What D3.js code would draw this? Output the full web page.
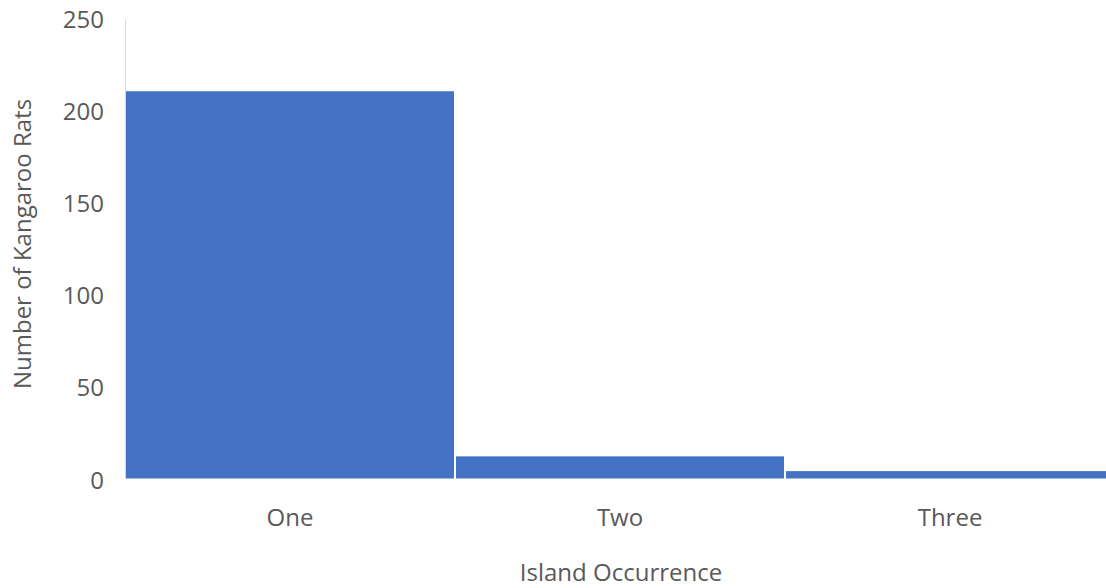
<!DOCTYPE html>
<html><head><meta charset="utf-8">
<script src="https://cdn.jsdelivr.net/npm/d3@7"></script>
<style>body{margin:0;background:#fff}svg{display:block}text{font-family:"Open Sans",sans-serif;fill:#595959}</style>
</head><body><svg id="c" width="1106" height="588"></svg>
<script>
const categories = ["One", "Two", "Three"];
const counts = [210, 12, 4];
const yTicks = [0, 50, 100, 150, 200, 250];
const xTitle = "Island Occurrence";
const yTitle = "Number of Kangaroo Rats";

const svg = d3.select("#c");
const x = d3.scaleBand().domain(categories).range([125, 1115]).padding(0);
const y = d3.scaleLinear().domain([0, 250]).range([478.5, 17.5]);

// y axis line
svg.append("line").attr("x1", 125.5).attr("x2", 125.5).attr("y1", y(250) + 2).attr("y2", y(0))
  .attr("stroke", "#d9d9d9").attr("stroke-width", 1);

// bars
svg.selectAll("rect.bar").data(categories).join("rect")
  .attr("class", "bar")
  .attr("x", d => x(d) + 1)
  .attr("width", x.bandwidth() - 2)
  .attr("y", (d, i) => y(counts[i]))
  .attr("height", (d, i) => y(0) - y(counts[i]))
  .attr("fill", "#4472C4");

// y tick labels
const yAxis = d3.axisLeft(y).tickValues(yTicks).tickSize(0).tickPadding(0);
const gy = svg.append("g").attr("transform", "translate(104,0)").call(yAxis);
gy.select(".domain").remove();
gy.selectAll("text").attr("font-size", 24).style("font-family", "'Open Sans',sans-serif").attr("fill", "#595959").attr("dy", "0.4em");

// x tick labels
const xAxis = d3.axisBottom(x).tickSize(0).tickPadding(0);
const gx = svg.append("g").attr("transform", "translate(0,509)").call(xAxis);
gx.select(".domain").remove();
gx.selectAll("text").attr("font-size", 24).style("font-family", "'Open Sans',sans-serif").attr("fill", "#595959").attr("dy", "0.7em");

// titles
svg.append("text").attr("x", (125 + 1115) / 2 + 1).attr("y", 581).attr("text-anchor", "middle")
  .attr("font-size", 24).text(xTitle);
svg.append("text").attr("transform", "translate(31,244) rotate(-90)").attr("text-anchor", "middle")
  .attr("font-size", 24).text(yTitle);
</script></body></html>
